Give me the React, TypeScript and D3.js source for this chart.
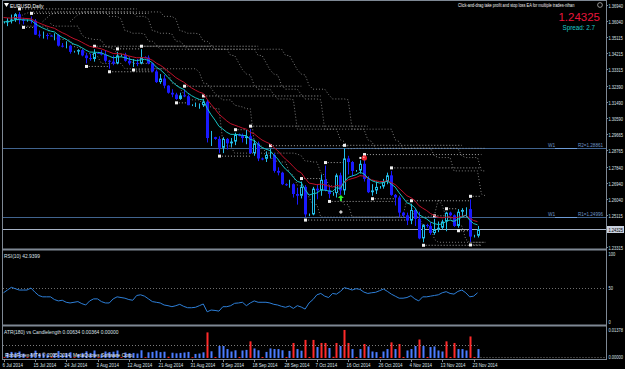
import React, { useEffect, useRef } from "react";
import * as d3 from "d3";

// MT4 window size
const width = 625;
const height = 369;

const symbolTitle = "EURUSD,Daily";
const eaTitle = "Click-and-drag take profit and stop loss EA for multiple trades-nihan";
const bidText = "1.24325";
const spreadText = "Spread: 2.7";
const rsiTitle = "RSI(10) 42.9399";
const atrTitle = "ATR(180) vs Candlelength  0.00634  0.00364  0.00000";
const brokerText = "RoboForex-MT4  \u00a9 2005-2014, MetaQuotes Software Corp.";

// one label every 8 bars (sunday bars included)
const dateLabels = ["6 Jul 2014", "15 Jul 2014", "24 Jul 2014", "3 Aug 2014", "12 Aug 2014", "21 Aug 2014",
  "31 Aug 2014", "9 Sep 2014", "18 Sep 2014", "28 Sep 2014", "7 Oct 2014", "16 Oct 2014", "26 Oct 2014",
  "4 Nov 2014", "13 Nov 2014", "23 Nov 2014"];

const priceTicks = [1.3694, 1.3604, 1.35115, 1.34215, 1.33315, 1.3239, 1.3149, 1.3059, 1.29665, 1.28765,
  1.2784, 1.2694, 1.2604, 1.25115, 1.23315];
const currentPrice = 1.24325;
const pivotNames = ["R2", "R1"];
const pivotValues = [1.28861, 1.24996];

const opens = [1.3594, 1.3596, 1.3605, 1.3612, 1.3642, 1.3612, 1.3605, 1.3608, 1.3605, 1.3527,
  1.3525, 1.3525, 1.3522, 1.352, 1.3525, 1.3465, 1.3462, 1.3465, 1.343, 1.3432,
  1.344, 1.341, 1.3395, 1.339, 1.3425, 1.3424, 1.3415, 1.338, 1.3375, 1.3365,
  1.341, 1.3412, 1.338, 1.3365, 1.3368, 1.3365, 1.34, 1.3398, 1.3365, 1.332,
  1.326, 1.328, 1.324, 1.32, 1.319, 1.3165, 1.3185, 1.318, 1.313, 1.313,
  1.313, 1.313, 1.315, 1.2945, 1.295, 1.294, 1.289, 1.294, 1.2915, 1.2925,
  1.2965, 1.2958, 1.2945, 1.2955, 1.286, 1.2915, 1.283, 1.2828, 1.285, 1.285,
  1.276, 1.275, 1.2685, 1.268, 1.2685, 1.263, 1.262, 1.267, 1.2515, 1.2515,
  1.266, 1.265, 1.271, 1.265, 1.263, 1.2635, 1.2735, 1.265, 1.283, 1.281,
  1.276, 1.2762, 1.28, 1.2715, 1.264, 1.265, 1.267, 1.2672, 1.27, 1.2735,
  1.2625, 1.261, 1.2525, 1.251, 1.248, 1.254, 1.249, 1.238, 1.2455, 1.245,
  1.241, 1.243, 1.244, 1.2475, 1.2525, 1.251, 1.245, 1.253, 1.254, 1.2545,
  1.239, 1.2395];
const highs = [1.36, 1.362, 1.364, 1.3648, 1.3655, 1.3622, 1.3612, 1.363, 1.3615, 1.355,
  1.3545, 1.3535, 1.3526, 1.3535, 1.353, 1.348, 1.349, 1.347, 1.3436, 1.3445,
  1.3445, 1.3425, 1.342, 1.3445, 1.343, 1.344, 1.344, 1.3385, 1.341, 1.343,
  1.3416, 1.3425, 1.34, 1.339, 1.339, 1.3445, 1.3405, 1.341, 1.337, 1.333,
  1.3305, 1.33, 1.3242, 1.322, 1.32, 1.32, 1.322, 1.319, 1.3135, 1.3145,
  1.314, 1.3165, 1.316, 1.2985, 1.2952, 1.2955, 1.295, 1.2945, 1.2945, 1.2975,
  1.297, 1.297, 1.299, 1.2995, 1.2935, 1.2925, 1.2835, 1.287, 1.2885, 1.286,
  1.278, 1.2755, 1.269, 1.271, 1.269, 1.2665, 1.27, 1.268, 1.252, 1.267,
  1.2685, 1.274, 1.279, 1.268, 1.264, 1.2745, 1.275, 1.2887, 1.2845, 1.2815,
  1.2765, 1.282, 1.2835, 1.273, 1.2685, 1.27, 1.2675, 1.2715, 1.275, 1.276,
  1.263, 1.262, 1.253, 1.2525, 1.2575, 1.2545, 1.253, 1.246, 1.2462, 1.247,
  1.249, 1.2475, 1.2485, 1.253, 1.253, 1.2515, 1.2545, 1.255, 1.2555, 1.26,
  1.24, 1.245];
const lows = [1.359, 1.3575, 1.359, 1.36, 1.359, 1.3585, 1.36, 1.359, 1.3525, 1.351,
  1.3505, 1.35, 1.3518, 1.3495, 1.346, 1.3455, 1.345, 1.342, 1.3426, 1.3415,
  1.3405, 1.3365, 1.338, 1.3375, 1.342, 1.341, 1.337, 1.3335, 1.3355, 1.336,
  1.3404, 1.3375, 1.3355, 1.3345, 1.335, 1.336, 1.3395, 1.336, 1.3315, 1.3255,
  1.325, 1.3225, 1.3195, 1.3175, 1.316, 1.316, 1.3175, 1.313, 1.3125, 1.312,
  1.311, 1.312, 1.292, 1.29, 1.2935, 1.286, 1.286, 1.288, 1.2895, 1.2905,
  1.2955, 1.292, 1.291, 1.2855, 1.2845, 1.2815, 1.282, 1.281, 1.283, 1.275,
  1.2735, 1.268, 1.2675, 1.2665, 1.261, 1.257, 1.2605, 1.25, 1.2505, 1.251,
  1.26, 1.262, 1.2645, 1.2605, 1.262, 1.261, 1.2625, 1.2625, 1.274, 1.273,
  1.2755, 1.2745, 1.27, 1.2635, 1.262, 1.263, 1.266, 1.266, 1.2685, 1.262,
  1.2565, 1.25, 1.25, 1.2455, 1.246, 1.245, 1.2375, 1.2358, 1.244, 1.24,
  1.24, 1.2415, 1.243, 1.242, 1.2505, 1.2445, 1.244, 1.2505, 1.25, 1.236,
  1.2385, 1.2385];
const closes = [1.3596, 1.3605, 1.3612, 1.3642, 1.3612, 1.3605, 1.3608, 1.3605, 1.3527, 1.3525,
  1.3525, 1.3522, 1.352, 1.3525, 1.3465, 1.3462, 1.3465, 1.343, 1.3432, 1.344,
  1.341, 1.3395, 1.339, 1.3425, 1.3424, 1.3415, 1.338, 1.3375, 1.3365, 1.341,
  1.3412, 1.338, 1.3365, 1.3368, 1.3365, 1.34, 1.3398, 1.3365, 1.332, 1.326,
  1.328, 1.324, 1.32, 1.319, 1.3165, 1.3185, 1.318, 1.313, 1.313, 1.313,
  1.313, 1.315, 1.2945, 1.295, 1.294, 1.289, 1.294, 1.2915, 1.2925, 1.2965,
  1.2958, 1.2945, 1.2955, 1.286, 1.2915, 1.283, 1.2828, 1.285, 1.285, 1.276,
  1.275, 1.2685, 1.268, 1.2685, 1.263, 1.262, 1.267, 1.2515, 1.2515, 1.266,
  1.265, 1.271, 1.265, 1.263, 1.2635, 1.2735, 1.265, 1.283, 1.281, 1.276,
  1.2762, 1.28, 1.2715, 1.264, 1.265, 1.267, 1.2672, 1.27, 1.2735, 1.2625,
  1.261, 1.2525, 1.251, 1.248, 1.254, 1.249, 1.238, 1.2455, 1.245, 1.241,
  1.243, 1.244, 1.2475, 1.2525, 1.251, 1.245, 1.253, 1.254, 1.2545, 1.239,
  1.2395, 1.2432];

const rsiValues = [43, 47, 51, 49, 47, 47, 47, 50, 44, 39,
  37, 37, 37, 33, 31, 32, 29, 28, 29, 30,
  27, 25, 31, 34, 34, 30, 28, 28, 34, 37,
  36, 35, 33, 32, 39, 40, 38, 34, 30, 29,
  28, 25, 24, 22.5, 24, 26, 23, 21, 21, 21.6,
  24, 26.5, 15, 17.6, 17, 16, 22.5, 22.5, 24, 27.5,
  28, 29, 24, 28, 31, 29, 29, 29, 28, 26,
  25, 23, 21.6, 23.5, 20, 24, 22, 19, 28, 33,
  40, 42, 38, 36, 42, 41, 45, 50.5, 49, 47,
  49, 48, 44, 42, 43, 43.7, 46, 48.5, 45, 41,
  38, 35, 35, 36, 38.7, 34, 31, 37, 37, 38,
  39, 40, 43, 44.6, 42, 41, 45, 47, 43, 37,
  38, 42.9];

// candle length histogram, in pips
const candleLength = [4, 25, 30, 27, 32, 22, 4, 24, 36, 21,
  23, 19, 4, 22, 34, 17, 24, 28, 4, 20,
  25, 33, 25, 37, 4, 18, 32, 29, 31, 37,
  4, 27, 24, 25, 22, 38, 4, 28, 30, 36,
  29, 31, 6, 26, 23, 25, 27, 30, 4, 20,
  22, 28, 126, 33, 5, 59, 59, 44, 32, 38,
  5, 37, 40, 82, 47, 38, 5, 30, 47, 44,
  44, 38, 5, 35, 74, 44, 36, 89, 5, 89,
  54, 74, 74, 49, 6, 74, 59, 138, 74, 44,
  5, 44, 69, 57, 32, 29, 5, 32, 44, 77,
  44, 69, 5, 37, 44, 59, 91, 59, 5, 54,
  57, 37, 32, 82, 5, 74, 44, 44, 37, 106,
  5, 44];
const atrLevel = 0.00634;
const atrMax = 0.01378;

// arrows / dots from the EA
const signalBars = [86, 86, 92];
const signalPrices = [1.2607, 1.2528, 1.2833];
const signalKinds = ["buy", "info", "sell"];

const font = "'Liberation Sans', Arial, sans-serif";
const frameColor = "#7e8894";
const labelColor = "#dde2e8";

function ema(values, period, seed) {
  const k = 2 / (period + 1);
  let prev = seed;
  return values.map((v) => {
    prev = prev + k * (v - prev);
    return prev;
  });
}

function rolling(values, n, fn) {
  return values.map((_, i) => fn(values.slice(Math.max(0, i - n + 1), i + 1)));
}

// small squeezed axis text, like MT4's bitmap font (horizontal squeeze)
function axisText(g, xx, yy, t, fill) {
  return g.append("text").attr("transform", `translate(${xx},${yy}) scale(0.72,1)`).text(t)
    .attr("font-size", 5.6).attr("fill", fill);
}

function drawChart(el) {
  const n = closes.length;
  const svg = d3.select(el);
  svg.selectAll("*").remove();
  svg.append("rect").attr("width", width).attr("height", height).attr("fill", "#000");

  const x = d3.scaleLinear().domain([0, 121]).range([3.5, 477.5]);
  const y = d3.scaleLinear().domain([1.23315, 1.3694]).range([247, 5]);
  const yRsi = d3.scaleLinear().domain([0, 100]).range([322, 254]);
  const yAtr = d3.scaleLinear().domain([0, atrMax]).range([358, 330]);
  const px = (i) => Math.round(x(i));

  const defs = svg.append("defs");
  defs.append("clipPath").attr("id", "mainClip")
    .append("rect").attr("x", 3).attr("y", 1).attr("width", 603).attr("height", 247);

  const main = svg.append("g").attr("clip-path", "url(#mainClip)");

  // weekly pivots
  pivotValues.forEach((v, k) => {
    const yy = Math.round(y(v)) + 0.5;
    main.append("line").attr("x1", 3).attr("x2", 606).attr("y1", yy).attr("y2", yy)
      .attr("stroke", "#41648f").attr("stroke-width", 1.2);
    main.append("line").attr("x1", 555).attr("x2", 577).attr("y1", yy).attr("y2", yy)
      .attr("stroke", "#6d9bd6").attr("stroke-width", 1);
    main.append("text").attr("x", 548).attr("y", yy - 1.5).text("W1")
      .attr("font-size", 4.8).attr("fill", "#6d95c8").attr("font-family", font);
    main.append("text").attr("x", 578).attr("y", yy - 1.5)
      .text(pivotNames[k] + "=" + v.toFixed(5))
      .attr("font-size", 4.8).attr("textLength", 25).attr("lengthAdjust", "spacingAndGlyphs")
      .attr("fill", "#6d95c8").attr("font-family", font);
  });

  // bid line
  const yBid = Math.round(y(currentPrice)) + 0.5;
  main.append("line").attr("x1", 3).attr("x2", 606).attr("y1", yBid).attr("y2", yBid)
    .attr("stroke", "#a7b3c6").attr("stroke-width", 1);

  // shifted high / low channels (dotted grey)
  const hh = rolling(highs, 20, (a) => d3.max(a));
  const ll = rolling(lows, 20, (a) => d3.min(a));
  const chanLine = d3.line().x((d) => x(d[0])).y((d) => y(d[1]));
  const channels = [[hh, 3], [hh, 10], [hh, 17], [ll, 4], [ll, 12]];
  channels.forEach(([vals, s]) => {
    const pts = vals.map((v, i) => [i + s, v]).filter((d) => d[0] <= 123);
    main.append("path").attr("d", chanLine(pts)).attr("fill", "none")
      .attr("stroke", "#9c9c9c").attr("stroke-width", 0.8).attr("stroke-dasharray", "1,2");
  });

  // fractal levels
  for (let i = 2; i < n - 2; i++) {
    const isHigh = highs[i] > highs[i - 1] && highs[i] > highs[i - 2] && highs[i] >= highs[i + 1] && highs[i] >= highs[i + 2];
    const isLow = lows[i] < lows[i - 1] && lows[i] < lows[i - 2] && lows[i] <= lows[i + 1] && lows[i] <= lows[i + 2];
    if (isHigh) {
      let j = i + 1;
      while (j < n && j - i < 30 && highs[j] <= highs[i]) j++;
      main.append("line").attr("x1", x(i)).attr("x2", x(j)).attr("y1", y(highs[i]) - 3).attr("y2", y(highs[i]) - 3)
        .attr("stroke", "#d0d0d0").attr("stroke-width", 0.8).attr("stroke-dasharray", "1,2");
      main.append("rect").attr("x", px(i) - 1).attr("y", y(highs[i]) - 4.5).attr("width", 3).attr("height", 3).attr("fill", "#f0f0f0");
    }
    if (isLow) {
      let j = i + 1;
      while (j < n && j - i < 30 && lows[j] >= lows[i]) j++;
      main.append("line").attr("x1", x(i)).attr("x2", x(j)).attr("y1", y(lows[i]) + 3).attr("y2", y(lows[i]) + 3)
        .attr("stroke", "#d0d0d0").attr("stroke-width", 0.8).attr("stroke-dasharray", "1,2");
      main.append("rect").attr("x", px(i) - 1).attr("y", y(lows[i]) + 1.5).attr("width", 3).attr("height", 3).attr("fill", "#f0f0f0");
    }
  }

  // candles
  closes.forEach((c, i) => {
    const o = opens[i];
    const xc = px(i);
    const bull = c >= o;
    const col = bull ? "#22bde8" : "#1a1aff";
    main.append("line").attr("x1", xc + 0.5).attr("x2", xc + 0.5).attr("y1", y(highs[i])).attr("y2", y(lows[i]))
      .attr("stroke", col).attr("stroke-width", 1);
    const top = y(Math.max(o, c));
    const bot = y(Math.min(o, c));
    if (bull) {
      main.append("rect").attr("x", xc - 0.5).attr("y", top + 0.5).attr("width", 2)
        .attr("height", Math.max(0, bot - top - 1)).attr("fill", "#000").attr("stroke", col).attr("stroke-width", 1);
    } else {
      main.append("rect").attr("x", xc - 1).attr("y", top).attr("width", 3)
        .attr("height", Math.max(1, bot - top)).attr("fill", col);
    }
  });

  // moving averages
  const maLine = d3.line().x((d, i) => x(i)).y((d) => y(d));
  main.append("path").attr("d", maLine(ema(closes, 14, 1.3628))).attr("fill", "none")
    .attr("stroke", "#c0102a").attr("stroke-width", 1);
  main.append("path").attr("d", maLine(ema(closes, 8, 1.3600))).attr("fill", "none")
    .attr("stroke", "#16c4c4").attr("stroke-width", 1);

  // EA signals
  signalBars.forEach((b, k) => {
    const sx = x(b) + 0.5;
    const sy = y(signalPrices[k]);
    if (signalKinds[k] == "buy") {
      main.append("path").attr("d", `M${sx},${sy - 3}L${sx + 3},${sy}L${sx + 1},${sy}L${sx + 1},${sy + 3}L${sx - 1},${sy + 3}L${sx - 1},${sy}L${sx - 3},${sy}Z`)
        .attr("fill", "#29f029");
    } else if (signalKinds[k] == "sell") {
      main.append("rect").attr("x", sx - 5).attr("y", sy - 1).attr("width", 2).attr("height", 2).attr("fill", "#fff");
      main.append("circle").attr("cx", sx).attr("cy", sy).attr("r", 2.6).attr("fill", "#e8222c");
      main.append("circle").attr("cx", sx - 0.6).attr("cy", sy - 0.6).attr("r", 0.8).attr("fill", "#ffb0b0");
    } else {
      main.append("path").attr("d", `M${sx},${sy - 2}L${sx + 2},${sy}L${sx},${sy + 2}L${sx - 2},${sy}Z`)
        .attr("fill", "#c8c8c8");
    }
  });

  // ---- RSI panel
  const rsi = svg.append("g");
  rsi.append("line").attr("x1", 3).attr("x2", 606).attr("y1", Math.round(yRsi(50)) + 0.5).attr("y2", Math.round(yRsi(50)) + 0.5)
    .attr("stroke", "#8a8a8a").attr("stroke-width", 0.8).attr("stroke-dasharray", "1,2");
  rsi.append("path").attr("d", d3.line().x((d, i) => x(i)).y((d) => yRsi(d))(rsiValues))
    .attr("fill", "none").attr("stroke", "#2d7fd8").attr("stroke-width", 1);
  rsi.append("text").attr("x", 4).attr("y", 258).text(rsiTitle)
    .attr("font-size", 4.9).attr("fill", labelColor).attr("font-family", font);

  // ---- candle length panel
  const atr = svg.append("g");
  candleLength.forEach((v, i) => {
    const val = v / 10000;
    const red = val > atrLevel || i % 6 == 0;
    atr.append("rect").attr("x", px(i) - 0.5).attr("width", 2)
      .attr("y", yAtr(val)).attr("height", Math.max(0.6, yAtr(0) - yAtr(val)))
      .attr("fill", red ? "#ff2a2a" : "#4a7cff");
  });
  const yLvl = Math.round(yAtr(atrLevel)) + 0.5;
  atr.append("line").attr("x1", 3).attr("x2", x(121)).attr("y1", yLvl).attr("y2", yLvl)
    .attr("stroke", "#9a9a9a").attr("stroke-width", 0.8).attr("stroke-dasharray", "1,2");
  atr.append("line").attr("x1", x(121)).attr("x2", 606).attr("y1", 357.5).attr("y2", 357.5)
    .attr("stroke", "#9a9a9a").attr("stroke-width", 0.8).attr("stroke-dasharray", "1,2");
  atr.append("text").attr("x", 4).attr("y", 334).text(atrTitle)
    .attr("font-size", 4.9).attr("fill", labelColor).attr("font-family", font);
  atr.append("text").attr("x", 5).attr("y", 356.5).text(brokerText)
    .attr("font-size", 4.9).attr("fill", "#f2f2f2").attr("font-family", font);

  // ---- frame and separators
  const frame = svg.append("g").attr("stroke", frameColor);
  frame.append("line").attr("x1", 2.5).attr("x2", 2.5).attr("y1", 0).attr("y2", 360);
  frame.append("line").attr("x1", 606.5).attr("x2", 606.5).attr("y1", 0).attr("y2", 360);
  frame.append("line").attr("x1", 2).attr("x2", 607).attr("y1", 0.5).attr("y2", 0.5);
  frame.append("line").attr("x1", 2).attr("x2", 607).attr("y1", 249.5).attr("y2", 249.5).attr("stroke-width", 2);
  frame.append("line").attr("x1", 2).attr("x2", 607).attr("y1", 325.5).attr("y2", 325.5).attr("stroke-width", 2);
  frame.append("line").attr("x1", 2).attr("x2", 607).attr("y1", 359.5).attr("y2", 359.5);

  // price axis
  const axis = svg.append("g").attr("font-family", font);
  priceTicks.forEach((v) => {
    const yy = Math.round(y(v)) + 0.5;
    axis.append("line").attr("x1", 606).attr("x2", 608).attr("y1", yy).attr("y2", yy).attr("stroke", frameColor);
    axisText(axis, 608.5, yy + 2, v.toFixed(5), labelColor);
  });
  axis.append("rect").attr("x", 607).attr("y", yBid - 3.5).attr("width", 17).attr("height", 7).attr("fill", "#c9d1de");
  axisText(axis, 608.5, yBid + 2, bidText, "#000");

  // rsi + atr axis labels
  [[100, "100"], [50, "50"], [0, "0"]].forEach(([v, t]) => {
    axisText(axis, 608.5, yRsi(v) + 2, t, labelColor);
  });
  axisText(axis, 608.5, yAtr(atrMax) + 2, atrMax.toFixed(5), labelColor);
  axisText(axis, 608.5, yAtr(0) + 1, "0.00000", labelColor);

  // time axis
  dateLabels.forEach((t, k) => {
    const xx = px(k * 8);
    axis.append("line").attr("x1", xx + 0.5).attr("x2", xx + 0.5).attr("y1", 359).attr("y2", 362).attr("stroke", frameColor);
    axis.append("text").attr("transform", `translate(${Math.max(2, xx - 1.5)},366.5) scale(0.82,1)`).text(t)
      .attr("font-size", 5.4).attr("fill", labelColor);
  });

  // titles
  const top = svg.append("g").attr("font-family", font);
  top.append("path").attr("d", "M4,3L9,3L6.5,7Z").attr("fill", "#fff");
  top.append("text").attr("x", 10).attr("y", 7.5).text(symbolTitle).attr("font-size", 5).attr("fill", "#fff");
  top.append("text").attr("transform", "translate(458,7) scale(0.85,1)").text(eaTitle)
    .attr("font-size", 4.6).attr("fill", "#f0f0f0");
  top.append("circle").attr("cx", 600).attr("cy", 5).attr("r", 2.4).attr("fill", "none").attr("stroke", "#f0f0f0").attr("stroke-width", 0.6);
  top.append("text").attr("x", 600).attr("y", 20.5).attr("text-anchor", "end").text(bidText)
    .attr("font-size", 11.5).attr("fill", "#e8163c");
  top.append("text").attr("x", 595).attr("y", 30).attr("text-anchor", "end").text(spreadText)
    .attr("font-size", 6.3).attr("fill", "#1ec8c8");
}

export default function App() {
  const ref = useRef(null);
  useEffect(() => {
    drawChart(ref.current);
  }, []);
  return (
    <div style={{ position: "absolute", left: 0, top: 0 }}>
      <svg ref={ref} width={width} height={height} style={{ display: "block" }} />
    </div>
  );
}
